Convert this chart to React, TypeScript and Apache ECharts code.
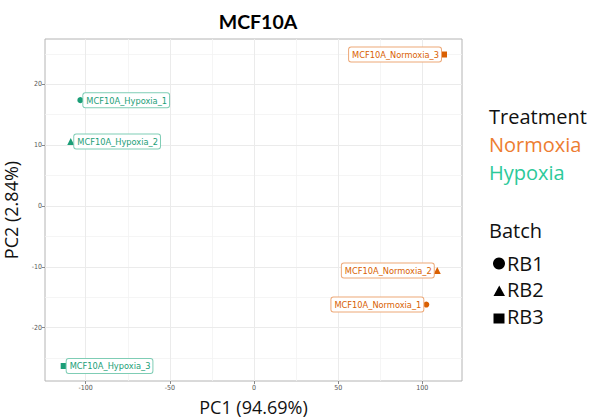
import React, { useEffect, useRef } from "react";
import * as echarts from "echarts";

const sampleNames = [
  "MCF10A_Normoxia_1",
  "MCF10A_Normoxia_2",
  "MCF10A_Normoxia_3",
  "MCF10A_Hypoxia_1",
  "MCF10A_Hypoxia_2",
  "MCF10A_Hypoxia_3",
];
const pc1 = [102.4, 108.9, 112.9, -103.2, -108.9, -113.1];
const pc2 = [-16.2, -10.6, 24.9, 17.4, 10.6, -26.3];
const treatment = ["Normoxia", "Normoxia", "Normoxia", "Hypoxia", "Hypoxia", "Hypoxia"];
const batch = ["RB1", "RB2", "RB3", "RB1", "RB2", "RB3"];

const treatments = ["Normoxia", "Hypoxia"];
const batches = ["RB1", "RB2", "RB3"];

const xTicks = [-100, -50, 0, 50, 100];
const xMinor = [-75, -25, 25, 75];
const yTicks = [-20, -10, 0, 10, 20];
const yMinor = [-25, -15, -5, 5, 15, 25];

const xRange = [-124.2, 123.6];
const yRange = [-28.77, 27.45];

const pointColors: Record<string, string> = { Normoxia: "#D95F02", Hypoxia: "#1B9E77" };
const legendColors: Record<string, string> = { Normoxia: "#ED7D31", Hypoxia: "#2CC99A" };
const batchSymbol: Record<string, string> = { RB1: "circle", RB2: "triangle", RB3: "rect" };
const batchSize: Record<string, number> = { RB1: 6, RB2: 7, RB3: 6 };

const LABEL_FONT = "'DejaVu Sans Condensed', 'Liberation Sans Narrow', sans-serif";
const LEGEND_FONT = "'Open Sans', Lato, sans-serif";

export default function App() {
  const ref = useRef<HTMLDivElement>(null);

  useEffect(() => {
    if (!ref.current) return;
    const chart = echarts.init(ref.current, undefined, { renderer: "svg" });

    const series: any[] = treatments.map((t, si) => {
      const data = sampleNames
        .map((n, i) => ({ n, i }))
        .filter(({ i }) => treatment[i] === t)
        .map(({ n, i }) => ({
          name: n,
          value: [pc1[i], pc2[i]],
          symbol: batchSymbol[batch[i]],
          symbolSize: batchSize[batch[i]],
        }));
      const s: any = {
        name: t,
        type: "scatter",
        data,
        z: 3,
        itemStyle: { color: pointColors[t], opacity: 1 },
        label: {
          show: true,
          position: t === "Hypoxia" ? "right" : "left",
          distance: 0,
          formatter: "{b}",
          color: pointColors[t],
          fontFamily: LABEL_FONT,
          fontSize: 9.2,
          lineHeight: 11,
          backgroundColor: "#ffffff",
          borderColor: t === "Hypoxia" ? "#7FCDB5" : "#EDA877",
          borderWidth: 1,
          borderRadius: 2,
          padding: [2, 2, 1, 3],
        },
        emphasis: { disabled: true },
      };
      if (si === 0) {
        const major = { type: "solid", color: "#EBEBEB", width: 1 };
        const minor = { type: "solid", color: "#F3F3F3", width: 0.8 };
        s.markLine = {
          silent: true,
          z: 1,
          symbol: ["none", "none"],
          label: { show: false },
          animation: false,
          data: [
            ...xMinor.map((v) => ({ xAxis: v, lineStyle: minor })),
            ...yMinor.map((v) => ({ yAxis: v, lineStyle: minor })),
            ...xTicks.map((v) => ({ xAxis: v, lineStyle: major })),
            ...yTicks.map((v) => ({ yAxis: v, lineStyle: major })),
          ],
        };
      }
      return s;
    });

    const graphic: any[] = [
      {
        type: "text",
        x: 258,
        y: 21,
        style: {
          text: "MCF10A",
          fill: "#000",
          font: `bold 19.5px Lato, sans-serif`,
          align: "center",
          verticalAlign: "middle",
        },
      },
      {
        type: "text",
        x: 489,
        y: 116,
        style: { text: "Treatment", fill: "#111", font: `20px ${LEGEND_FONT}`, verticalAlign: "middle" },
      },
      ...treatments.map((t, i) => ({
        type: "text",
        x: 489,
        y: 144.5 + i * 27.5,
        style: { text: t, fill: legendColors[t], font: `20px ${LEGEND_FONT}`, verticalAlign: "middle" },
      })),
      {
        type: "text",
        x: 489,
        y: 230.5,
        style: { text: "Batch", fill: "#111", font: `20px ${LEGEND_FONT}`, verticalAlign: "middle" },
      },
      ...batches.map((b, i) => ({
        type: "text",
        x: 507,
        y: 263 + i * 26.5,
        style: { text: b, fill: "#111", font: `20px ${LEGEND_FONT}`, verticalAlign: "middle" },
      })),
      { type: "circle", shape: { cx: 499, cy: 263.5, r: 6 }, style: { fill: "#000" } },
      {
        type: "polygon",
        shape: { points: [[493.5, 296], [505, 296], [499.25, 285.5]] },
        style: { fill: "#000" },
      },
      { type: "rect", shape: { x: 493.5, y: 313.5, width: 11, height: 10 }, style: { fill: "#000" } },
    ];

    chart.setOption({
      animation: false,
      backgroundColor: "#ffffff",
      grid: {
        left: 45,
        right: 129,
        top: 39,
        bottom: 36,
        show: true,
        borderColor: "#B4B4B4",
        borderWidth: 1,
        backgroundColor: "transparent",
        containLabel: false,
        outerBoundsMode: "none",
      },
      xAxis: {
        type: "value",
        min: xRange[0],
        max: xRange[1],
        name: "PC1 (94.69%)",
        nameLocation: "middle",
        nameGap: 16,
        nameTextStyle: { fontFamily: LEGEND_FONT, fontSize: 18, lineHeight: 19, color: "#111" },
        axisLine: { show: false, onZero: false },
        splitLine: { show: false },
        axisTick: { show: true, customValues: xTicks, length: 3, lineStyle: { color: "#888" } },
        axisLabel: {
          customValues: xTicks,
          fontSize: 7,
          color: "#555",
          margin: 3,
          fontFamily: "'DejaVu Sans Condensed', sans-serif",
        },
      },
      yAxis: {
        type: "value",
        min: yRange[0],
        max: yRange[1],
        name: "PC2 (2.84%)",
        nameLocation: "middle",
        nameGap: 18,
        nameRotate: 90,
        nameTextStyle: { fontFamily: LEGEND_FONT, fontSize: 18, lineHeight: 19, color: "#111" },
        axisLine: { show: false, onZero: false },
        splitLine: { show: false },
        axisTick: { show: true, customValues: yTicks, length: 3, lineStyle: { color: "#888" } },
        axisLabel: {
          customValues: yTicks,
          fontSize: 7,
          color: "#555",
          margin: 3,
          fontFamily: "'DejaVu Sans Condensed', sans-serif",
        },
      },
      series,
      graphic,
    });

    return () => chart.dispose();
  }, []);

  return (
    <div
      ref={ref}
      style={{ position: "absolute", left: 0, top: 0, width: 591, height: 417, background: "#fff" }}
    />
  );
}
